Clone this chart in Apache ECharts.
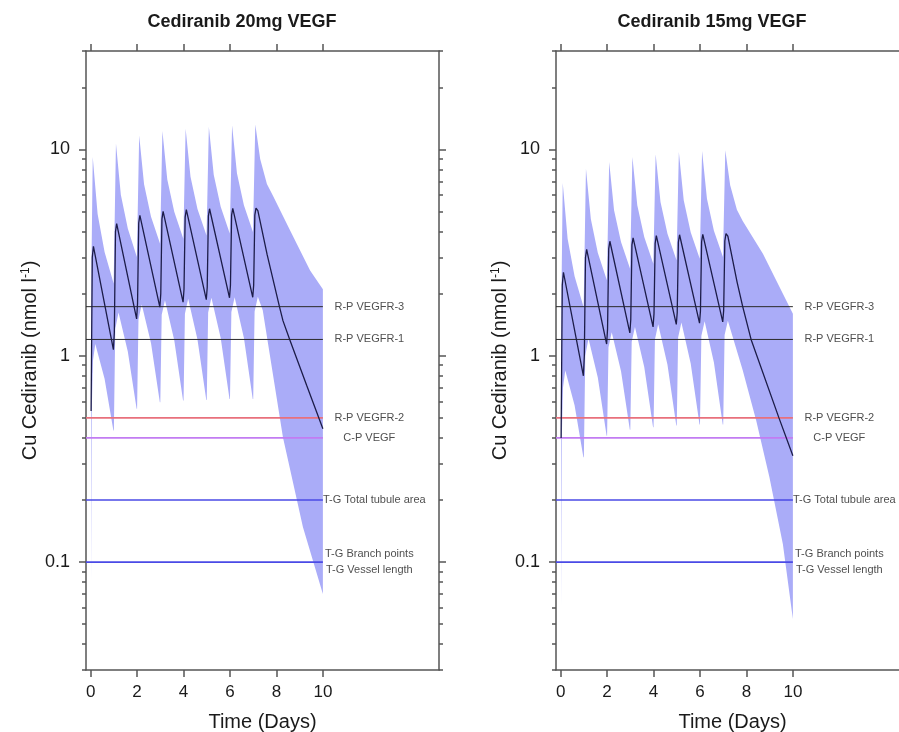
<!DOCTYPE html>
<html>
<head>
<meta charset="utf-8">
<script src="https://cdn.jsdelivr.net/npm/echarts@6/dist/echarts.min.js"></script>
<style>
  html, body { margin: 0; padding: 0; background: #fff; }
  #chart { width: 899px; height: 732px; }
</style>
</head>
<body>
<div id="chart"></div>
<script>
// ---- data ----
var panelTitles = ['Cediranib 20mg VEGF', 'Cediranib 15mg VEGF'];
var xTickValues = [0, 2, 4, 6, 8, 10];
var yMajorValues = [0.1, 1, 10];
var yMinorValues = [0.03, 0.04, 0.05, 0.06, 0.07, 0.08, 0.09, 0.2, 0.3, 0.4, 0.5, 0.6, 0.7, 0.8, 0.9,
  2, 3, 4, 5, 6, 7, 8, 9, 20, 30];

// threshold lines
var refValues = [1.73, 1.2, 0.5, 0.4, 0.2, 0.1];
var refColors = ['#2a2a2a', '#2a2a2a', '#e8707c', '#c27cf2', '#4a4ae6', '#4a4ae6'];
var refLabels = ['R-P VEGFR-3', 'R-P VEGFR-1', 'R-P VEGFR-2', 'C-P VEGF', 'T-G Total tubule area', 'T-G Branch points', 'T-G Vessel length'];
var refLabelValues = [1.73, 1.2, 0.5, 0.4, 0.2, 0.1, 0.1];

// median concentration, 20 mg  [day, nmol/l]
var median20 = [
  [0.02, 0.54], [0.07, 3.0], [0.12, 3.39], [0.98, 1.07],
  [1.02, 1.3], [1.07, 4.0], [1.12, 4.37], [1.98, 1.51],
  [2.02, 1.8], [2.07, 4.4], [2.12, 4.79], [2.98, 1.72],
  [3.02, 2.0], [3.07, 4.6], [3.12, 5.01], [3.98, 1.82],
  [4.02, 2.1], [4.07, 4.7], [4.12, 5.11], [4.98, 1.87],
  [5.02, 2.15], [5.07, 4.75], [5.12, 5.16], [5.98, 1.91],
  [6.02, 2.2], [6.07, 4.8], [6.12, 5.18], [6.98, 1.92],
  [7.02, 2.2], [7.07, 4.8], [7.12, 5.2], [7.2, 5.05], [7.6, 3.09], [8.13, 1.73],
  [8.28, 1.48], [8.57, 1.2], [9.3, 0.72], [10, 0.443]
];
var upper20 = [
  [0.02, 0.6], [0.04, 3.0], [0.09, 9.19], [0.3, 4.86], [0.6, 3.18], [0.99, 2.24],
  [1.09, 10.7], [1.3, 6.03], [1.6, 4.14], [1.99, 3.01],
  [2.09, 11.7], [2.3, 6.79], [2.6, 4.72], [2.99, 3.49],
  [3.09, 12.3], [3.3, 7.16], [3.6, 4.99], [3.99, 3.69],
  [4.09, 12.6], [4.3, 7.37], [4.6, 5.15], [4.99, 3.83],
  [5.09, 12.9], [5.3, 7.54], [5.6, 5.27], [5.99, 3.91],
  [6.09, 13.1], [6.3, 7.66], [6.6, 5.36], [6.99, 3.98],
  [7.09, 13.2], [7.3, 9.0], [7.59, 6.8], [7.84, 6.0], [8.59, 4.05], [9.45, 2.59], [10, 2.1]
];
var lower20 = [
  [0.02, 0.08], [0.05, 0.55], [0.1, 0.95], [0.2, 1.14], [0.6, 0.774], [0.98, 0.434],
  [1.0, 0.434], [1.06, 1.35], [1.2, 1.62], [1.6, 1.05], [1.98, 0.553],
  [2.0, 0.553], [2.06, 1.5], [2.2, 1.77], [2.6, 1.15], [2.98, 0.596],
  [3.0, 0.596], [3.06, 1.58], [3.2, 1.86], [3.6, 1.19], [3.98, 0.607],
  [4.0, 0.607], [4.06, 1.6], [4.2, 1.89], [4.6, 1.2], [4.98, 0.61],
  [5.0, 0.61], [5.06, 1.62], [5.2, 1.91], [5.6, 1.22], [5.98, 0.618],
  [6.0, 0.618], [6.06, 1.63], [6.2, 1.92], [6.6, 1.22], [6.98, 0.618],
  [7.0, 0.618], [7.06, 1.64], [7.2, 1.93], [7.41, 1.66], [8.28, 0.403], [9.14, 0.148], [10, 0.07]
];

// median concentration, 15 mg
var median15 = [
  [0.02, 0.40], [0.07, 2.2], [0.12, 2.54], [0.98, 0.80],
  [1.02, 1.0], [1.07, 3.0], [1.12, 3.28], [1.98, 1.14],
  [2.02, 1.35], [2.07, 3.3], [2.12, 3.59], [2.98, 1.29],
  [3.02, 1.5], [3.07, 3.45], [3.12, 3.73], [3.98, 1.38],
  [4.02, 1.6], [4.07, 3.5], [4.12, 3.82], [4.98, 1.42],
  [5.02, 1.62], [5.07, 3.55], [5.12, 3.86], [5.98, 1.44],
  [6.02, 1.65], [6.07, 3.57], [6.12, 3.88], [6.98, 1.46],
  [7.02, 1.66], [7.07, 3.6], [7.12, 3.91], [7.2, 3.8], [7.6, 2.27], [7.84, 1.73],
  [8.2, 1.2], [9.4, 0.5], [10, 0.328]
];
var upper15 = [
  [0.02, 0.45], [0.04, 2.2], [0.09, 6.87], [0.3, 3.69], [0.6, 2.43], [0.99, 1.72],
  [1.09, 8.07], [1.3, 4.6], [1.6, 3.16], [1.99, 2.32],
  [2.09, 8.69], [2.3, 5.08], [2.6, 3.56], [2.99, 2.64],
  [3.09, 9.19], [3.3, 5.37], [3.6, 3.76], [3.99, 2.79],
  [4.09, 9.47], [4.3, 5.56], [4.6, 3.9], [4.99, 2.9],
  [5.09, 9.71], [5.3, 5.68], [5.6, 3.97], [5.99, 2.95],
  [6.09, 9.82], [6.3, 5.77], [6.6, 4.04], [6.99, 3.01],
  [7.09, 9.9], [7.3, 6.7], [7.59, 5.1], [7.84, 4.5], [8.71, 3.12], [9.57, 2.0], [10, 1.6]
];
var lower15 = [
  [0.02, 0.06], [0.05, 0.4], [0.1, 0.7], [0.2, 0.849], [0.6, 0.576], [0.98, 0.322],
  [1.0, 0.322], [1.06, 1.0], [1.2, 1.21], [1.6, 0.785], [1.98, 0.41],
  [2.0, 0.41], [2.06, 1.1], [2.2, 1.3], [2.6, 0.841], [2.98, 0.438],
  [3.0, 0.438], [3.06, 1.17], [3.2, 1.38], [3.6, 0.883], [3.98, 0.451],
  [4.0, 0.451], [4.06, 1.2], [4.2, 1.42], [4.6, 0.904], [4.98, 0.459],
  [5.0, 0.459], [5.06, 1.23], [5.2, 1.45], [5.6, 0.918], [5.98, 0.464],
  [6.0, 0.464], [6.06, 1.25], [6.2, 1.47], [6.6, 0.927], [6.98, 0.464],
  [7.0, 0.464], [7.06, 1.26], [7.2, 1.48], [7.84, 0.85], [8.42, 0.485], [8.99, 0.258], [9.57, 0.122], [10, 0.053]
];

var medians = [median20, median15];
var uppers = [upper20, upper15];
var lowers = [lower20, lower15];

// ---- chart ----
var FONT = 'Liberation Sans, Arial, Helvetica, sans-serif';
var X_MIN = -0.2, X_MAX = 15, Y_MIN = 0.03, Y_MAX = 30;
var AXIS_COLOR = '#555';
var BAND_COLOR = '#aaacf8';
var panelLeft = [86, 556];

var grids = [], xAxes = [], yAxes = [], series = [], titles = [];

panelLeft.forEach(function (left, p) {
  grids.push({ left: left, top: 51, width: 353, height: 619, containLabel: false, outerBoundsMode: 'none' });
  titles.push({
    text: panelTitles[p], left: left + 156, top: 13, textAlign: 'center', padding: 0,
    textStyle: { fontFamily: FONT, fontSize: 18, fontWeight: 'bold', color: '#1a1a1a' }
  });

  var lineStyle = { color: AXIS_COLOR, width: 1.5 };
  xAxes.push({
    type: 'value', gridIndex: p, position: 'bottom', min: X_MIN, max: X_MAX,
    name: 'Time (Days)', nameLocation: 'middle', nameGap: 42,
    nameTextStyle: { fontFamily: FONT, fontSize: 20, color: '#1a1a1a' },
    axisLine: { show: true, onZero: false, lineStyle: lineStyle },
    axisTick: { show: true, length: 7, customValues: xTickValues, lineStyle: lineStyle },
    axisLabel: { show: true, customValues: xTickValues, margin: 14, fontFamily: FONT, fontSize: 17, color: '#1a1a1a' },
    splitLine: { show: false }
  });
  xAxes.push({
    type: 'value', gridIndex: p, position: 'top', min: X_MIN, max: X_MAX,
    axisLine: { show: true, onZero: false, lineStyle: lineStyle },
    axisTick: { show: true, length: 7, customValues: xTickValues, lineStyle: lineStyle },
    axisLabel: { show: false },
    splitLine: { show: false }
  });

  ['left', 'right'].forEach(function (side) {
    yAxes.push({
      type: 'log', gridIndex: p, position: side, min: Y_MIN, max: Y_MAX,
      name: side === 'left' ? 'Cu Cediranib (nmol l{sup|-1})' : '',
      nameLocation: 'middle', nameGap: 46, nameRotate: 90,
      nameTextStyle: {
        fontFamily: FONT, fontSize: 20, color: '#1a1a1a',
        rich: { sup: { fontFamily: FONT, fontSize: 12, color: '#1a1a1a', verticalAlign: 'top', lineHeight: 14 } }
      },
      axisLine: { show: true, onZero: false, lineStyle: lineStyle },
      axisTick: { show: true, length: 7, customValues: yMajorValues, lineStyle: lineStyle },
      axisLabel: { show: side === 'left', customValues: yMajorValues, margin: 16, fontFamily: FONT, fontSize: 18, color: '#1a1a1a' },
      splitLine: { show: false }
    });
    yAxes.push({
      type: 'log', gridIndex: p, position: side, min: Y_MIN, max: Y_MAX,
      axisLine: { show: false, onZero: false },
      axisTick: { show: true, length: 4, customValues: yMinorValues, lineStyle: lineStyle },
      axisLabel: { show: false },
      splitLine: { show: false }
    });
  });

  var xi = 2 * p, yi = 4 * p;
  var poly = uppers[p].concat(lowers[p].slice().reverse());

  // shaded prediction band
  series.push({
    type: 'custom', xAxisIndex: xi, yAxisIndex: yi, silent: true, z: 1, clip: true,
    data: [poly[0]],
    renderItem: function (params, api) {
      return {
        type: 'polygon',
        shape: { points: poly.map(function (pt) { return api.coord(pt); }) },
        style: { fill: BAND_COLOR }
      };
    }
  });

  // threshold lines
  refValues.forEach(function (v, i) {
    series.push({
      type: 'line', xAxisIndex: xi, yAxisIndex: yi, silent: true, z: 2,
      symbol: 'none', animation: false,
      lineStyle: { color: refColors[i], width: i < 2 ? 1 : 1.6 },
      data: [[X_MIN, v], [10, v]]
    });
  });

  // median curve
  series.push({
    type: 'line', xAxisIndex: xi, yAxisIndex: yi, silent: true, z: 3,
    symbol: 'none', animation: false,
    lineStyle: { color: '#1c1c48', width: 1.3 },
    data: medians[p]
  });

  // threshold labels
  series.push({
    type: 'scatter', xAxisIndex: xi, yAxisIndex: yi, silent: true, z: 4,
    symbolSize: 0, animation: false,
    data: refLabels.map(function (name, i) {
      var dy = i === 5 ? -8 : (i === 6 ? 8 : 0);
      var dx = i === 4 ? 5 : 0;
      return {
        value: [12, refLabelValues[i]],
        label: { show: true, position: 'inside', formatter: name, offset: [dx, dy] }
      };
    }),
    label: { fontFamily: FONT, fontSize: 11, color: '#222', align: 'center', verticalAlign: 'middle' }
  });
});

var chart = echarts.init(document.getElementById('chart'), null, { renderer: 'canvas' });
chart.setOption({
  backgroundColor: '#fff',
  animation: false,
  title: titles,
  grid: grids,
  xAxis: xAxes,
  yAxis: yAxes,
  series: series
});
</script>
</body>
</html>
